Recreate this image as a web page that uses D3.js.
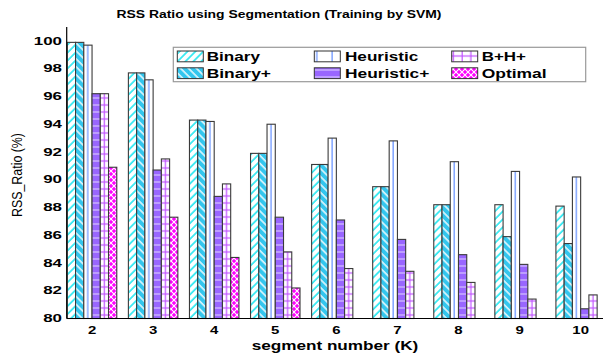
<!DOCTYPE html>
<html><head><meta charset="utf-8">
<script src="https://cdn.jsdelivr.net/npm/d3@7"></script>
<style>body{margin:0;background:#fff}svg{display:block}</style>
</head><body>
<svg id="chart" width="603" height="360"></svg>
<script>
// Segment counts on the x axis
const segments = [2, 3, 4, 5, 6, 7, 8, 9, 10];
const seriesNames = ["Binary", "Binary+", "Heuristic", "Heuristic+", "B+H+", "Optimal"];
// RSS ratio (%) per method; null = below the axis floor
const binary        = [99.9, 97.7, 94.3, 91.9, 91.1, 89.5, 88.2, 88.2, 88.1];
const binaryPlus    = [99.9, 97.7, 94.3, 91.9, 91.1, 89.5, 88.2, 85.9, 85.4];
const heuristic     = [99.7, 97.2, 94.2, 94.0, 93.0, 92.8, 91.3, 90.6, 90.2];
const heuristicPlus = [96.2, 90.7, 88.8, 87.3, 87.1, 85.7, 84.6, 83.9, 80.7];
const bhPlus        = [96.2, 91.5, 89.7, 84.8, 83.6, 83.4, 82.6, 81.4, 81.7];
const optimal       = [90.9, 87.3, 84.4, 82.2, null, null, null, null, null];
const yTicks = [80, 82, 84, 86, 88, 90, 92, 94, 96, 98, 100];

const seriesValues = [binary, binaryPlus, heuristic, heuristicPlus, bhPlus, optimal];

const svg = d3.select("#chart");
const FONT = "'Liberation Sans', Arial, Helvetica, sans-serif";

const x = d3.scaleBand().domain(segments).range([66.7, 606]).paddingInner(0.19).paddingOuter(0.01);
const xs = d3.scaleBand().domain(seriesNames).range([0, x.bandwidth()]);
const y = d3.scaleLinear().domain([80, 101]).range([318.5, 27.1]);

// ---- fill patterns ----
const defs = svg.append("defs");
const bw = xs.bandwidth();
const x0 = x(segments[0]);

function diag(id, bg, fg, angle, w) {
  const p = defs.append("pattern").attr("id", id).attr("patternUnits", "userSpaceOnUse")
    .attr("width", w).attr("height", w).attr("patternTransform", `rotate(${angle})`);
  p.append("rect").attr("width", w).attr("height", w).attr("fill", bg);
  p.append("line").attr("x1", 1).attr("y1", 0).attr("x2", 1).attr("y2", w)
    .attr("stroke", fg).attr("stroke-width", 1.4);
}
diag("pBinary", "#ffffff", "#00e4ee", 45, 5.6);
diag("pBinaryPlus", "#33c6ee", "#ffffff", -45, 5.6);

// Heuristic: white with thin blue vertical rules
{
  const w = x.step() / 4;
  const p = defs.append("pattern").attr("id", "pHeuristic").attr("patternUnits", "userSpaceOnUse")
    .attr("x", x0 + xs("Heuristic")).attr("y", 0).attr("width", w).attr("height", 10);
  p.append("rect").attr("width", w).attr("height", 10).attr("fill", "#ffffff");
  p.append("line").attr("x1", 4).attr("x2", 4).attr("y1", 0).attr("y2", 10)
    .attr("stroke", "#7fa4ff").attr("stroke-width", 1.5);
}
// Heuristic+: purple with light horizontal rules
{
  const p = defs.append("pattern").attr("id", "pHeuristicPlus").attr("patternUnits", "userSpaceOnUse")
    .attr("x", 0).attr("y", y(80)).attr("width", 10).attr("height", 7);
  p.append("rect").attr("width", 10).attr("height", 7).attr("fill", "#9966ff");
  p.append("line").attr("x1", 0).attr("x2", 10).attr("y1", 3.5).attr("y2", 3.5)
    .attr("stroke", "#e0d4ff").attr("stroke-width", 1);
}
// B+H+: white with orchid grid
{
  const w = x.step() / 7;
  const p = defs.append("pattern").attr("id", "pBH").attr("patternUnits", "userSpaceOnUse")
    .attr("x", x0 + xs("B+H+")).attr("y", y(80)).attr("width", w).attr("height", 7);
  p.append("rect").attr("width", w).attr("height", 7).attr("fill", "#ffffff");
  p.append("line").attr("x1", bw / 2).attr("x2", bw / 2).attr("y1", 0).attr("y2", 7)
    .attr("stroke", "#c050ff").attr("stroke-width", 1.2);
  p.append("line").attr("x1", 0).attr("x2", w).attr("y1", 3.5).attr("y2", 3.5)
    .attr("stroke", "#c050ff").attr("stroke-width", 1.2);
}
// Optimal: magenta with white cross-hatch
{
  const w = 6;
  const p = defs.append("pattern").attr("id", "pOptimal").attr("patternUnits", "userSpaceOnUse")
    .attr("width", w).attr("height", w);
  p.append("rect").attr("width", w).attr("height", w).attr("fill", "#ff00ff");
  p.append("path").attr("d", `M0,0L${w},${w}M0,${w}L${w},0`)
    .attr("stroke", "#ffffff").attr("stroke-width", 1.1).attr("fill", "none");
}
const fills = {
  "Binary": "url(#pBinary)", "Binary+": "url(#pBinaryPlus)", "Heuristic": "url(#pHeuristic)",
  "Heuristic+": "url(#pHeuristicPlus)", "B+H+": "url(#pBH)", "Optimal": "url(#pOptimal)"
};

// ---- bars ----
const rows = [];
segments.forEach((k, i) => {
  seriesNames.forEach((s, j) => {
    const v = seriesValues[j][i];
    if (v !== null) rows.push({ k, s, v });
  });
});
svg.append("g").selectAll("rect").data(rows).join("rect")
  .attr("x", d => x(d.k) + xs(d.s))
  .attr("y", d => y(d.v))
  .attr("width", bw)
  .attr("height", d => y(80) - y(d.v))
  .attr("fill", d => fills[d.s])
  .attr("stroke", "#3a3a3a")
  .attr("stroke-width", 1.1);

// ---- axes ----
svg.append("line").attr("x1", 66.7).attr("x2", 66.7).attr("y1", y(101)).attr("y2", y(80))
  .attr("stroke", "#000").attr("stroke-width", 1.2);
svg.append("line").attr("x1", 66.7).attr("x2", 603).attr("y1", y(80)).attr("y2", y(80))
  .attr("stroke", "#000").attr("stroke-width", 1.2);

function label(g, str, px, py, size, weight, anchor, len) {
  return g.append("text").text(str).attr("x", px).attr("y", py)
    .attr("font-family", FONT).attr("font-size", size).attr("font-weight", weight)
    .attr("text-anchor", anchor).attr("fill", "#000")
    .attr("textLength", len).attr("lengthAdjust", "spacingAndGlyphs");
}

const yAxisG = svg.append("g");
yTicks.forEach(t => label(yAxisG, String(t), 62, y(t) + 3.7, 10.2, "bold", "end", 9.4 * String(t).length));
const xAxisG = svg.append("g");
segments.forEach(k => label(xAxisG, String(k), x(k) + x.bandwidth() / 2, 333.8, 11.8, "bold", "middle", 8.3 * String(k).length));

// ---- titles ----
label(svg, "RSS Ratio using Segmentation (Training by SVM)", 279, 17.5, 11.2, "bold", "middle", 325);
label(svg, "segment number (K)", 335, 350, 12, "bold", "middle", 166.7);
svg.append("text").text("RSS_Ratio (%)")
  .attr("transform", "translate(21.5,175) rotate(-90)")
  .attr("font-family", FONT).attr("font-size", 15).attr("text-anchor", "middle")
  .attr("textLength", 84).attr("lengthAdjust", "spacingAndGlyphs");

// ---- legend ----
const lg = svg.append("g");
lg.append("rect").attr("x", 173.3).attr("y", 47.3).attr("width", 412.4).attr("height", 34.4)
  .attr("fill", "#fff").attr("stroke", "#999").attr("stroke-width", 1.2);
const colX = [177.3, 314.3, 451.7];
const textX = [206.7, 345, 481.7];
const rowY = [51, 67.8];
const textLen = { "Binary": 53.3, "Binary+": 64.3, "Heuristic": 73.3, "Heuristic+": 84.3, "B+H+": 44.3, "Optimal": 65 };
seriesNames.forEach((s, i) => {
  const c = Math.floor(i / 2), r = i % 2;
  lg.append("rect").attr("x", colX[c]).attr("y", rowY[r]).attr("width", 26).attr("height", 10.8)
    .attr("fill", fills[s]).attr("stroke", "#333").attr("stroke-width", 1);
  label(lg, s, textX[c], rowY[r] + 10, 12.8, "bold", "start", textLen[s]);
});
</script>
</body></html>
